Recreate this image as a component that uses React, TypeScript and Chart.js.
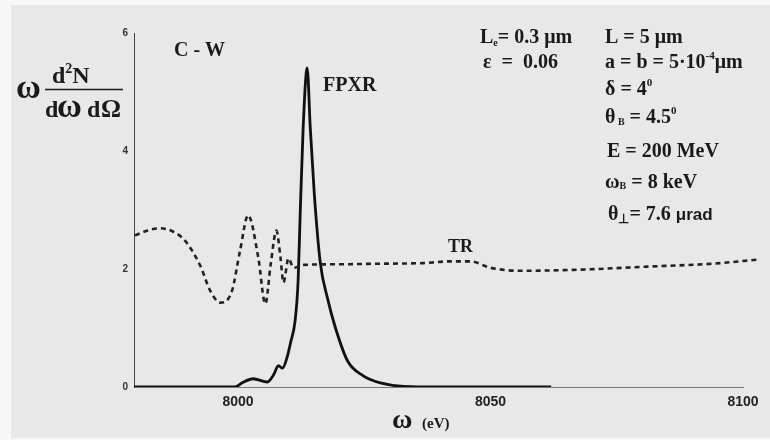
import React, { useEffect, useRef } from "react";
import { Chart, registerables } from "chart.js";

Chart.register(...registerables);

// ---- data ----
const xTickValues = [8000, 8050, 8100];
const yTickValues = [0, 2, 4, 6];

const trX = [7979.6, 7982, 7984.5, 7987, 7989.5, 7992.5, 7994.5, 7996.5, 7998.8, 8000.4, 8002, 8004, 8005.4, 8006.5, 8007.6, 8008.4, 8009, 8010, 8011, 8013, 8020, 8028, 8036.7, 8042, 8046, 8050, 8056, 8068, 8081, 8094, 8103];
const trY = [2.57, 2.65, 2.69, 2.64, 2.48, 2.06, 1.63, 1.43, 1.63, 2.31, 2.91, 2.2, 1.41, 2.1, 2.65, 2.2, 1.77, 2.18, 2.02, 2.07, 2.08, 2.09, 2.1, 2.13, 2.13, 2.02, 1.97, 1.99, 2.04, 2.09, 2.16];

const fpxrX = [7979.4, 7990, 7999.4, 8001, 8003, 8005.8, 8007, 8008, 8008.8, 8009.8, 8010.4, 8011.3, 8011.9, 8012.3, 8012.9, 8013.7, 8014.3, 8015.1, 8016.3, 8017.7, 8019.3, 8021.7, 8024.8, 8028.2, 8032.8, 8040, 8062];
const fpxrY = [0, 0, 0, 0.08, 0.14, 0.085, 0.2, 0.36, 0.32, 0.53, 0.75, 1.12, 1.8, 2.9, 4.4, 5.41, 4.4, 3.28, 2.1, 1.51, 1.0, 0.44, 0.19, 0.07, 0.01, 0, 0];

const SERIF = "'Liberation Serif', 'Times New Roman', serif";
const SANS = "'Liberation Sans', Arial, sans-serif";

type Part = { t: string; size: number; dy?: number; family?: string };

function drawRich(ctx: CanvasRenderingContext2D, x: number, y: number, parts: Part[]) {
  let cx = x;
  for (const p of parts) {
    ctx.font = `bold ${p.size}px ${p.family || SERIF}`;
    ctx.fillText(p.t, cx, y + (p.dy || 0));
    cx += ctx.measureText(p.t).width;
  }
}

const annotationPlugin = {
  id: "annotations",
  beforeDraw(chart: any) {
    const ctx = chart.ctx as CanvasRenderingContext2D;
    ctx.save();
    ctx.fillStyle = "#f7f7f7";
    ctx.fillRect(0, 0, chart.width, chart.height);
    ctx.fillStyle = "#e8e8e8";
    ctx.fillRect(11, 5, chart.width - 11, chart.height - 7);
    ctx.restore();
  },
  afterDraw(chart: any) {
    const ctx = chart.ctx as CanvasRenderingContext2D;
    ctx.save();
    ctx.fillStyle = "#1a1a1a";
    ctx.textBaseline = "alphabetic";
    ctx.textAlign = "left";

    // y-axis title: ω d²N / dωdΩ
    drawRich(ctx, 16, 98, [{ t: "ω", size: 34 }]);
    drawRich(ctx, 52, 83, [
      { t: "d", size: 24 },
      { t: "2", size: 14, dy: -10 },
      { t: "N", size: 24 },
    ]);
    ctx.strokeStyle = "#1a1a1a";
    ctx.lineWidth = 1.5;
    ctx.beginPath();
    ctx.moveTo(45, 89.5);
    ctx.lineTo(123, 89.5);
    ctx.stroke();
    drawRich(ctx, 45, 117, [{ t: "d", size: 24 }]);
    drawRich(ctx, 57, 117, [{ t: "ω", size: 34 }]);
    drawRich(ctx, 87, 117, [{ t: "d", size: 24 }]);
    drawRich(ctx, 101, 117, [{ t: "Ω", size: 25 }]);

    // x-axis title
    drawRich(ctx, 392, 428, [{ t: "ω", size: 28 }]);
    drawRich(ctx, 422, 428, [{ t: "(eV)", size: 15 }]);

    // labels
    drawRich(ctx, 174, 56, [{ t: "C - W", size: 20 }]);
    drawRich(ctx, 323, 91, [{ t: "FPXR", size: 20 }]);
    drawRich(ctx, 448, 252, [{ t: "TR", size: 18 }]);

    // parameters, left column
    drawRich(ctx, 480, 43, [
      { t: "L", size: 20 },
      { t: "e", size: 10, dy: 3 },
      { t: "= 0.3 μm", size: 20 },
    ]);
    drawRich(ctx, 483, 68, [{ t: "ε  =  0.06", size: 20 }]);

    // parameters, right column
    drawRich(ctx, 605, 43, [{ t: "L = 5 μm", size: 20 }]);
    drawRich(ctx, 605, 68, [
      { t: "a = b = 5·10", size: 20 },
      { t: "-4", size: 11, dy: -9 },
      { t: "μm", size: 20 },
    ]);
    drawRich(ctx, 605, 95, [
      { t: "δ = 4", size: 20 },
      { t: "0", size: 11, dy: -9 },
    ]);
    drawRich(ctx, 605, 123, [
      { t: "θ", size: 20 },
      { t: " B", size: 10, dy: 2 },
      { t: " = 4.5", size: 20 },
      { t: "0", size: 11, dy: -9 },
    ]);
    drawRich(ctx, 607, 157, [{ t: "E = 200 MeV", size: 20 }]);
    drawRich(ctx, 605, 188, [
      { t: "ω", size: 20 },
      { t: "B", size: 10, dy: 1 },
      { t: " = 8 keV", size: 20 },
    ]);
    drawRich(ctx, 608, 220, [
      { t: "θ", size: 20 },
      { t: "⊥", size: 13, dy: 3 },
      { t: "= 7.6 ", size: 20 },
      { t: "μrad", size: 17, family: SANS },
    ]);
    ctx.restore();
  },
};

export default function App() {
  const canvasRef = useRef<HTMLCanvasElement | null>(null);

  useEffect(() => {
    document.body.style.margin = "0";
    const canvas = canvasRef.current;
    if (!canvas) return;

    const chart = new Chart(canvas, {
      type: "line",
      data: {
        datasets: [
          {
            label: "TR",
            data: trX.map((x, i) => ({ x, y: trY[i] })),
            borderColor: "#222222",
            borderWidth: 2.6,
            borderDash: [5, 4],
            pointRadius: 0,
            fill: false,
            cubicInterpolationMode: "monotone",
            clip: false as any,
          },
          {
            label: "FPXR",
            data: fpxrX.map((x, i) => ({ x, y: fpxrY[i] })),
            borderColor: "#111111",
            borderWidth: 2.8,
            pointRadius: 0,
            fill: false,
            cubicInterpolationMode: "monotone",
          },
        ],
      },
      options: {
        responsive: false,
        maintainAspectRatio: false,
        animation: false,
        layout: { padding: { left: 0, right: 27, top: 33, bottom: 0 } },
        plugins: {
          legend: { display: false },
          tooltip: { enabled: false },
        },
        scales: {
          x: {
            type: "linear",
            min: 7979.4,
            max: 8100,
            grid: { display: false, drawTicks: false },
            border: { display: true, color: "#777777", width: 1 },
            ticks: {
              color: "#222222",
              font: { family: SANS, size: 14, weight: "bold" },
              padding: 7,
              maxRotation: 0,
              callback: (v: any) => String(v),
            },
            afterBuildTicks: (s: any) => {
              s.ticks = xTickValues.map((v) => ({ value: v }));
            },
            afterFit: (s: any) => {
              s.height = 53;
            },
          },
          y: {
            type: "linear",
            min: 0,
            max: 6,
            grid: { display: false, drawTicks: false },
            border: { display: true, color: "#444444", width: 1 },
            ticks: {
              color: "#333333",
              font: { family: SANS, size: 10, weight: "bold" },
              padding: 6,
              callback: (v: any) => String(v),
            },
            afterBuildTicks: (s: any) => {
              s.ticks = yTickValues.map((v) => ({ value: v }));
            },
            afterFit: (s: any) => {
              s.width = 134;
            },
          },
        },
      } as any,
      plugins: [annotationPlugin],
    });

    return () => chart.destroy();
  }, []);

  return (
    <div style={{ width: 770, height: 440 }}>
      <canvas ref={canvasRef} width={770} height={440} />
    </div>
  );
}
